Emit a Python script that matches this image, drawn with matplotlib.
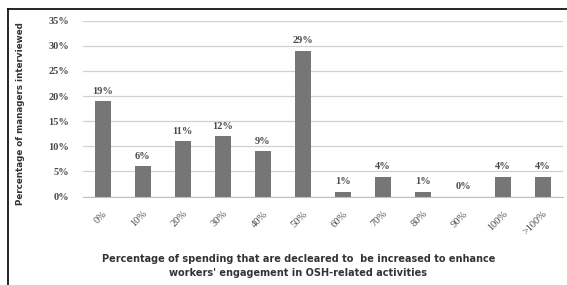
import matplotlib.pyplot as plt
from matplotlib.lines import Line2D

categories = ["0%", "10%", "20%", "30%", "40%", "50%", "60%", "70%", "80%", "90%", "100%", ">100%"]
values = [19, 6, 11, 12, 9, 29, 1, 4, 1, 0, 4, 4]
yticks = [0, 5, 10, 15, 20, 25, 30, 35]

fig = plt.figure(figsize=(5.67, 2.85), dpi=100)
ax = fig.add_axes([0.146, 0.31, 0.847, 0.618])

x = range(len(categories))
ax.bar(x, values, width=0.4, color="#767676", zorder=3)
for xi, v in zip(x, values):
    ax.text(xi, v + 1.1, f"{v}%", ha="center", va="bottom", fontsize=7.5,
            family="Liberation Serif", color="#4a4a4a", fontweight="bold")

ax.set_xlim(-0.5, len(categories) - 0.5)
ax.set_ylim(0, 35)
ax.set_yticks(yticks)
ax.set_yticklabels([f"{t}%" for t in yticks], family="Liberation Serif", fontsize=7.5,
                   color="#4a4a4a", fontweight="bold")
ax.set_xticks(list(x))
ax.set_xticklabels(categories, rotation=45, ha="right", rotation_mode="anchor",
                   family="Liberation Serif", fontsize=7.5, color="#4a4a4a")
ax.tick_params(axis="y", length=0, pad=10)
ax.tick_params(axis="x", length=0, pad=9)
ax.yaxis.grid(True, color="#d0d0d0", linewidth=0.9, zorder=0)
for s in ["top", "right", "left"]:
    ax.spines[s].set_visible(False)
ax.spines["bottom"].set_color("#c0c0c0")

fig.text(0.037, 0.6, "Percentage of managers interviewed", rotation=90, ha="center", va="center",
         fontsize=6.3, fontweight="bold", color="#333333")
fig.text(0.526, 0.067, "Percentage of spending that are decleared to  be increased to enhance\n"
         "workers' engagement in OSH-related activities", ha="center", va="center",
         fontsize=7, fontweight="bold", color="#333333", linespacing=1.6)

# frame lines around the image
fig.add_artist(Line2D([0.014, 1.0], [0.968, 0.968], color="black", linewidth=1.2))
fig.add_artist(Line2D([0.014, 0.014], [0.0, 0.968], color="black", linewidth=1.2))

fig.savefig("out.png", dpi=100)
